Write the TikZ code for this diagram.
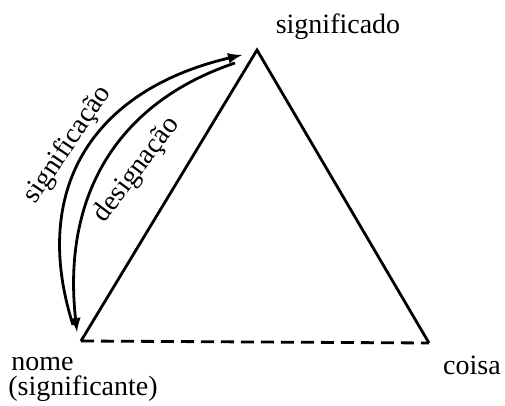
\documentclass[tikz,border=0pt]{standalone}
\usepackage{fontspec}
\setmainfont{Liberation Serif}
\begin{document}
\begin{tikzpicture}[x=0.5pt,y=-0.5pt,>=latex,
	side/.style={line width=1.4pt},
	lbl/.style={font=\fontsize{14}{16}\selectfont,inner sep=0pt}]
		
		\useasboundingbox (0,0) rectangle (505,406);
		\coordinate(1) at (257,50);
		\coordinate(2) at (81,341);
		\coordinate(3) at (429,343);
		\node(4) at (338,27)[lbl]{significado};
		\node(5) at (11,364)[lbl,anchor=west]{nome};
		\node(6) at (8,389)[lbl,anchor=west]{(significante)};
		\node(7) at (472,365)[lbl]{coisa};
		\node(8) at (68,145)[lbl,rotate=56]{significação};
		\node(9) at (137,170)[lbl,rotate=53]{designação};
		\coordinate(a) at (73,325);
		\coordinate(b) at (242,55);
		\coordinate(c) at (235,63);
		\coordinate(d) at (77,332);
		\draw[side] (2) -- (1) -- (3);
		\draw[side, dash pattern=on 6.5pt off 3.5pt] (2) -- (3);
		\draw[side,->] (a) .. controls (30,190) and (92,90) .. (b);
		\draw[side,->] (c) .. controls (116,103) and (62,197) .. (d);
		
	\end{tikzpicture}
\end{document}
